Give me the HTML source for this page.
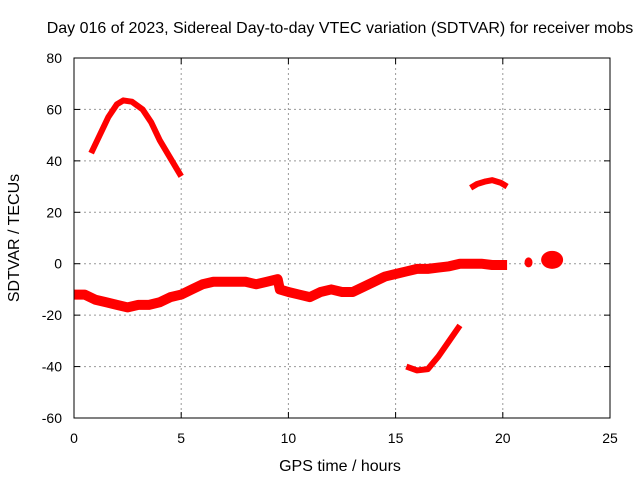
<!DOCTYPE html>
<html><head><meta charset="utf-8"><style>
body{margin:0;background:#fff;}
svg{display:block;font-family:"Liberation Sans",sans-serif;}
</style></head><body>
<svg id="chart" width="640" height="480">
<text x="340" y="33" font-size="16" text-anchor="middle">Day 016 of 2023, Sidereal Day-to-day VTEC variation (SDTVAR) for receiver mobs</text>
<text x="340" y="471" font-size="16" text-anchor="middle">GPS time / hours</text>
<text transform="translate(19,238) rotate(-90)" font-size="16" text-anchor="middle">SDTVAR / TECUs</text>
<g id="grid"></g><g id="series"></g>
<rect x="74" y="58" width="536" height="360" fill="none" stroke="#000" stroke-width="1"/>
</svg>
<script>
const xTicks=[0,5,10,15,20,25];
const yTicks=[-60,-40,-20,0,20,40,60,80];
const arcHours=[0.8,1.2,1.6,2.0,2.3,2.7,3.2,3.6,4.0,4.5,5.0];
const arcValues=[43,50,57,62,63.5,63,60,55,48,41,34];
const bandHours=[0,0.5,1,1.5,2,2.5,3,3.5,4,4.5,5,5.5,6,6.5,7,7.5,8,8.5,9,9.5,9.6,10,10.5,11,11.5,12,12.5,13,13.5,14,14.5,15,15.5,16,16.5,17,17.5,18,18.5,19,19.5,20.2];
const bandValues=[-12,-12,-14,-15,-16,-17,-16,-16,-15,-13,-12,-10,-8,-7,-7,-7,-7,-8,-7,-6,-10,-11,-12,-13,-11,-10,-11,-11,-9,-7,-5,-4,-3,-2,-2,-1.5,-1,0,0,0,-0.5,-0.5];
const eveHours=[18.5,18.8,19.2,19.5,19.9,20.2];
const eveValues=[29.5,31,32,32.5,31.5,30];
const dipHours=[15.5,16,16.5,17,17.5,18];
const dipValues=[-40,-41.5,-41,-36,-30,-24];
const blobHours=[21.2,22.3];
const blobValues=[0.5,1.5];
const X=h=>74+h*536/25, Y=v=>418-(v+60)*360/140;
const NS="http://www.w3.org/2000/svg";
const grid=document.getElementById('grid'), ser=document.getElementById('series');
function mk(tag,attrs,parent){const e=document.createElementNS(NS,tag);for(const k in attrs)e.setAttribute(k,attrs[k]);parent.appendChild(e);return e;}
xTicks.forEach(t=>{
 if(t>0&&t<25){const l=mk('line',{x1:X(t),x2:X(t),y1:58,y2:418,stroke:'#999','stroke-dasharray':'2,3'},grid);
 
 }
 const tk=mk('line',{x1:X(t),x2:X(t),y1:418,y2:412,stroke:'#000'},grid);
 
 
 const tk2=mk('line',{x1:X(t),x2:X(t),y1:58,y2:64,stroke:'#000'},grid);
 
 
 const tx=mk('text',{x:X(t),y:443,'font-size':14,'text-anchor':'middle'},grid);tx.textContent=t;
 
 
});
yTicks.forEach(t=>{
 if(t>-60&&t<80){const l=mk('line',{x1:74,x2:610,y1:Y(t),y2:Y(t),stroke:'#999','stroke-dasharray':'2,3'},grid);
 
 }
 const tk=mk('line',{x1:74,x2:80,y1:Y(t),y2:Y(t),stroke:'#000'},grid);
 
 
 const tk2=mk('line',{x1:604,x2:610,y1:Y(t),y2:Y(t),stroke:'#000'},grid);
 
 
 const tx=mk('text',{x:62,y:Y(t)+5,'font-size':14,'text-anchor':'end'},grid);tx.textContent=t;
 
 
});
function line(hs,vs,w,name){
 const p=mk('polyline',{points:hs.map((h,i)=>X(h)+','+Y(vs[i])).join(' '),fill:'none',stroke:'#f00','stroke-width':w,'stroke-linejoin':'round','stroke-linecap':'butt'},ser);
 
 
}
line(arcHours,arcValues,6,'series-morning-arc');
line(bandHours,bandValues,10,'series-main-band');
line(eveHours,eveValues,6,'series-evening-arc');
line(dipHours,dipValues,6,'series-dip');
blobHours.forEach((h,i)=>{
 const c=mk('ellipse',{cx:X(h),cy:Y(blobValues[i]),rx:i?11:4,ry:i?9:5,fill:'#f00'},ser);
 
 
});
</script>
</body></html>
